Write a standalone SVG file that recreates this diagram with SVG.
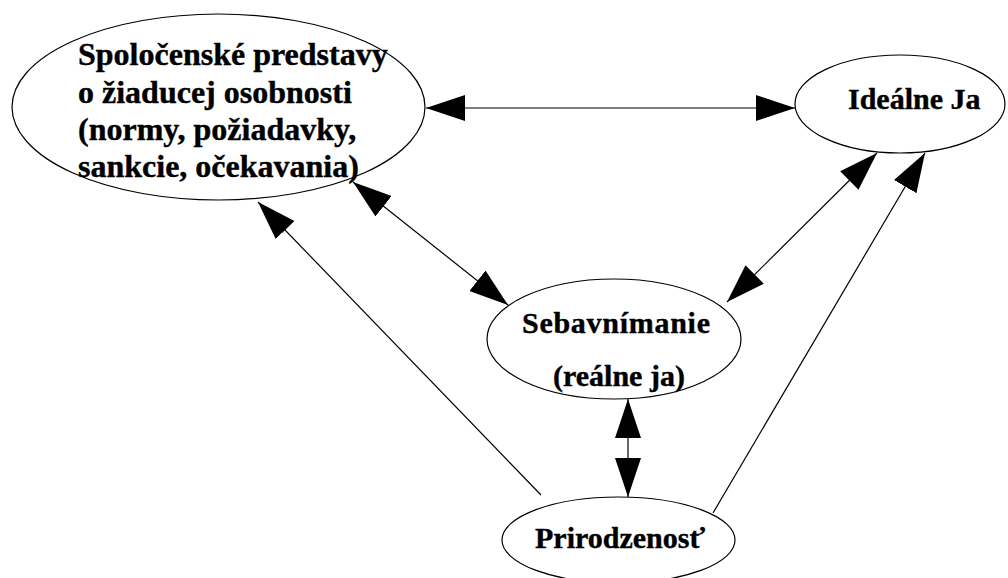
<svg xmlns="http://www.w3.org/2000/svg" width="1008" height="578" viewBox="0 0 1008 578">
<style>
.node{fill:#fff;stroke:#000;stroke-width:1.2}
.lbl{font-family:"Liberation Serif","Times New Roman",serif;font-weight:bold;font-size:30px;fill:#000;stroke:#000;stroke-width:0.4}
.big{font-size:32px}
.edge{stroke:#000;stroke-width:1.2;fill:none}
</style>
<defs>
<marker id="ah" viewBox="0 0 39 26" refX="39" refY="13" markerWidth="39" markerHeight="26" markerUnits="userSpaceOnUse" orient="auto-start-reverse">
<path d="M0,0 L39,13 L0,26 Z" fill="#000"/>
</marker>
</defs>
<rect width="1008" height="578" fill="#fff"/>
<g id="n-spolocenske">
<ellipse class="node" cx="218.5" cy="107" rx="206.5" ry="93"/>
<text class="lbl big" x="78" y="65">Spoločenské predstavy</text>
<text class="lbl big" x="78" y="103">o žiaducej osobnosti</text>
<text class="lbl big" x="78" y="140">(normy, požiadavky,</text>
<text class="lbl big" x="78" y="177">sankcie, očekavania)</text>
</g>
<g id="n-idealne">
<ellipse class="node" cx="900" cy="104" rx="105" ry="49"/>
<text class="lbl" x="848" y="109">Ideálne Ja</text>
</g>
<g id="n-sebavnimanie">
<ellipse class="node" cx="614" cy="339" rx="127" ry="60"/>
<text class="lbl" x="522" y="333" textLength="188">Sebavnímanie</text>
<text class="lbl" x="553" y="386">(reálne ja)</text>
</g>
<g id="n-prirodzenost">
<ellipse class="node" cx="618.5" cy="540" rx="116.5" ry="43"/>
<text class="lbl" x="535" y="548">Prirodzenosť</text>
</g>
<g id="connectors">
<line class="edge" x1="426" y1="108" x2="795" y2="108" marker-start="url(#ah)" marker-end="url(#ah)"/>
<line class="edge" x1="353" y1="182" x2="508" y2="305" marker-start="url(#ah)" marker-end="url(#ah)"/>
<line class="edge" x1="877" y1="153" x2="727" y2="302" marker-start="url(#ah)" marker-end="url(#ah)"/>
<line class="edge" x1="628" y1="399" x2="628" y2="497" marker-start="url(#ah)" marker-end="url(#ah)"/>
<line class="edge" x1="541" y1="495" x2="258" y2="202" marker-end="url(#ah)"/>
<line class="edge" x1="713" y1="513" x2="925" y2="153" marker-end="url(#ah)"/>
</g>
</svg>
